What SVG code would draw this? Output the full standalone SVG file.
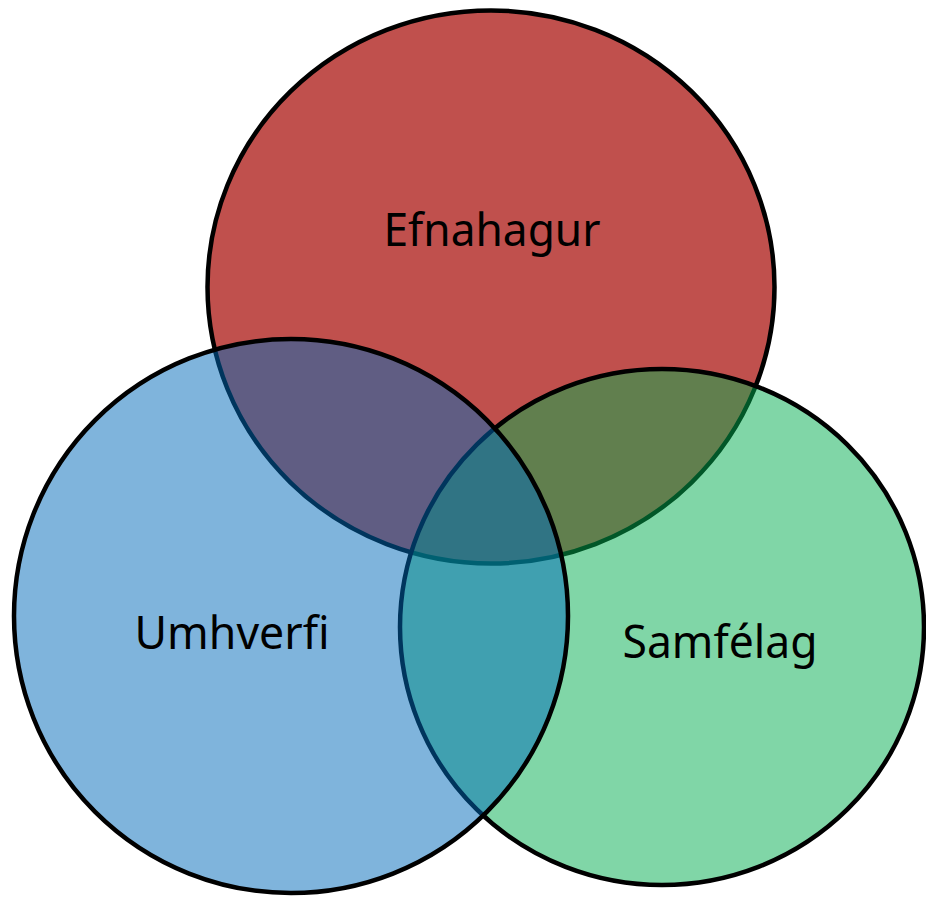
<svg xmlns="http://www.w3.org/2000/svg" width="926" height="898" viewBox="0 0 926 898">
  <style>
    .c { stroke: #000000; stroke-width: 4.5; }
    .lbl { font-family: "Noto Sans", "Open Sans", "Liberation Sans", sans-serif; font-size: 45px; fill: #000000; text-anchor: middle; }
  </style>
  <rect x="0" y="0" width="926" height="898" fill="#ffffff"/>
  <g id="efnahagur">
    <ellipse class="c" cx="491" cy="287" rx="283.5" ry="276.5" fill="#C0504D"/>
  </g>
  <g id="samfelag">
    <ellipse class="c" cx="662" cy="627" rx="262" ry="258" fill="#01AD4F" fill-opacity="0.5"/>
  </g>
  <g id="umhverfi">
    <circle class="c" cx="291" cy="616" r="277" fill="#0069B9" fill-opacity="0.5"/>
  </g>
  <g id="labels">
    <text class="lbl" x="492" y="246" textLength="217" lengthAdjust="spacingAndGlyphs">Efnahagur</text>
    <text class="lbl" x="232" y="649" textLength="195" lengthAdjust="spacingAndGlyphs">Umhverfi</text>
    <text class="lbl" x="720" y="658" textLength="195" lengthAdjust="spacingAndGlyphs">Samfélag</text>
  </g>
</svg>
